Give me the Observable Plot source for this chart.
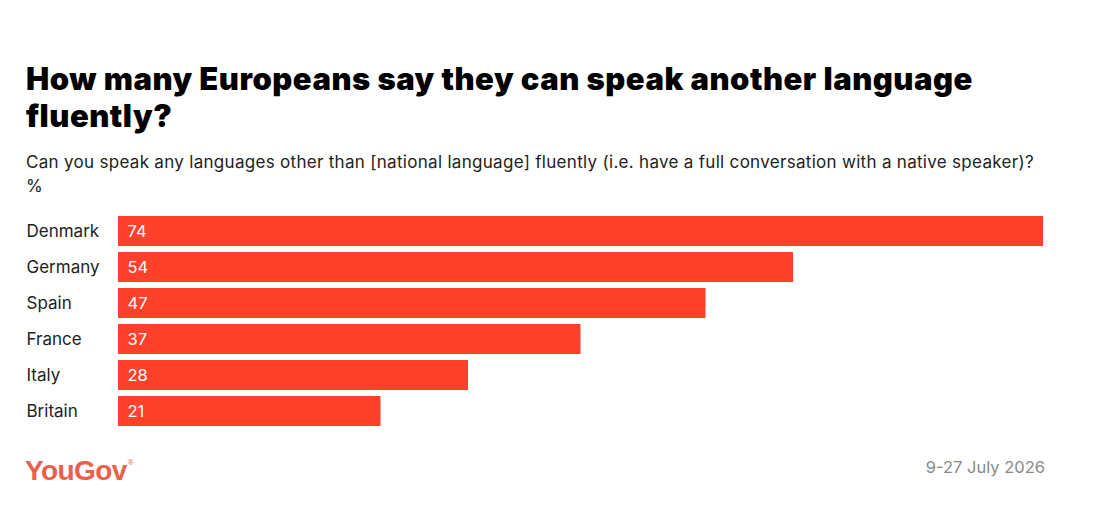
<!DOCTYPE html>
<html>
<head>
<meta charset="utf-8">
<script src="https://cdn.jsdelivr.net/npm/d3@7"></script>
<script src="https://cdn.jsdelivr.net/npm/@observablehq/plot@0.6"></script>
<style>
  html, body { margin: 0; padding: 0; background: #fff; }
  body { width: 1113px; height: 509px; position: relative; overflow: hidden; font-family: Inter, "Noto Sans", sans-serif; }
  #title { position: absolute; left: 26px; top: 60px; width: 1000px; font-size: 31px; line-height: 37px; font-weight: 900; color: #000; letter-spacing: 0.5px; }
  #subtitle { position: absolute; left: 26px; top: 150px; font-size: 17px; line-height: 24px; color: #222; white-space: nowrap; letter-spacing: 0.3px; }
  #chart { position: absolute; left: 0; top: 200px; }
  #logo { position: absolute; left: 25px; top: 445px; font-family: "Liberation Sans", Arial, sans-serif; font-weight: 700; font-size: 28px; line-height: 36px; color: #e9604c; letter-spacing: -0.6px; }
  #logo sup { font-size: 8px; font-weight: 400; vertical-align: 15px; letter-spacing: 0; margin-left: 1px; }
  #date { position: absolute; right: 68px; top: 456px; font-size: 16.5px; line-height: 22px; color: #8a8a8a; }
</style>
</head>
<body>
<div id="title"></div>
<div id="subtitle"></div>
<div id="chart"></div>
<div id="logo"></div>
<div id="date"></div>
<script>
const titleText = "How many Europeans say they can speak another language fluently?";
const subtitleLines = ["Can you speak any languages other than [national language] fluently (i.e. have a full conversation with a native speaker)?", "%"];
const countries = ["Denmark", "Germany", "Spain", "France", "Italy", "Britain"];
const values = [74, 54, 47, 37, 28, 21];
const xDomain = [0, 74];
const logoText = "YouGov";
const dateText = "9-27 July 2026";

document.getElementById("title").textContent = titleText;
document.getElementById("subtitle").innerHTML = subtitleLines.map(s => s.replace(/&/g,"&amp;").replace(/</g,"&lt;")).join("<br>");
document.getElementById("logo").innerHTML = logoText + "<sup>®</sup>";
document.getElementById("date").textContent = dateText;

const data = countries.map((c, i) => ({country: c, value: values[i]}));

const chart = Plot.plot({
  width: 1113,
  height: 240,
  marginLeft: 118,
  marginRight: 70,
  marginTop: 13,
  marginBottom: 11,
  x: {domain: xDomain, axis: null},
  y: {domain: countries, paddingInner: 0.18, paddingOuter: 0.09, axis: null},
  style: {fontFamily: "Inter, 'Noto Sans', sans-serif", background: "transparent", overflow: "visible"},
  marks: [
    Plot.barX(data, {x: "value", y: "country", fill: "#ff412c"}),
    Plot.text(data, {x: 0, y: "country", text: d => String(d.value), textAnchor: "start", dx: 9, fill: "#fff", fontSize: 16.5}),
    Plot.text(data, {frameAnchor: "left", y: "country", text: "country", textAnchor: "start", dx: -92, fill: "#222", fontSize: 17})
  ]
});
document.getElementById("chart").appendChild(chart);
</script>
</body>
</html>
